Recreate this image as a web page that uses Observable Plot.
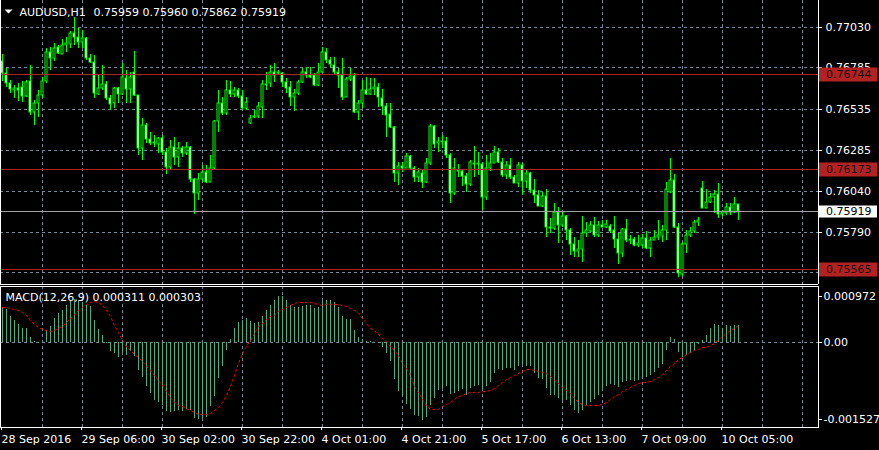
<!DOCTYPE html>
<html>
<head>
<meta charset="utf-8">
<script src="https://cdn.jsdelivr.net/npm/d3@7"></script>
<script src="https://cdn.jsdelivr.net/npm/@observablehq/plot@0.6"></script>
<style>
html, body { margin: 0; padding: 0; background: #000; }
#chart { width: 879px; height: 450px; overflow: hidden; background: #000; }
#chart svg { display: block; }
</style>
</head>
<body>
<div id="chart"></div>
<script>
// ---------- DATA (AUDUSD H1) ----------
const open = [
.76821,.76750,.76690,.76647,.76659,.76665,.76615,.76704,.76514,.76568,
.76619,.76700,.76877,.76841,.76909,.76869,.76921,.76926,.76992,.76972,
.76936,.76966,.76845,.76817,.76623,.76663,.76683,.76599,.76568,.76659,
.76627,.76724,.76655,.76756,.76619,.76296,.76437,.76353,.76326,.76320,
.76357,.76272,.76185,.76306,.76246,.76296,.76266,.76306,.76109,.76024,
.76109,.76155,.76094,.76175,.76462,.76568,.76508,.76649,.76623,.76649,
.76615,.76538,.76447,.76483,.76491,.76548,.76683,.76689,.76757,.76749,
.76749,.76699,.76665,.76608,.76628,.76699,.76759,.76739,.76739,.76679,
.76759,.76880,.76830,.76800,.76759,.76739,.76608,.76713,.76733,.76517,
.76568,.76648,.76624,.76652,.76669,.76598,.76552,.76503,.76427,.76144,
.76189,.76178,.76249,.76174,.76120,.76148,.76094,.76209,.76431,.76326,
.76340,.76340,.76255,.76023,.76164,.76160,.76128,.76080,.76205,.76201,
.76201,.75999,.76174,.76209,.76275,.76215,.76134,.76195,.76120,.76088,
.76195,.76100,.76144,.76043,.76013,.75949,.76007,.75822,.75811,.75912,
.75832,.75886,.75801,.75715,.75676,.75684,.75781,.75797,.75830,.75771,
.75832,.75822,.75826,.75801,.75745,.75660,.75805,.75741,.75745,.75711,
.75711,.75751,.75690,.75741,.75761,.75767,.75801,.76033,.76104,.75818,
.75533,.75717,.75771,.75797,.75852,.76058,.75937,.75973,.76003,.76017,
.75898,.75906,.75943,.75912,.75959
];
const high = [
.76865,.76780,.76710,.76679,.76690,.76700,.76710,.76800,.76589,.76649,
.76730,.76901,.76911,.76932,.76921,.76958,.76972,.77006,.77093,.77022,
.77012,.76972,.76865,.76861,.76740,.76800,.76700,.76619,.76669,.76669,
.76811,.76770,.76760,.76885,.76619,.76478,.76447,.76393,.76377,.76367,
.76377,.76296,.76347,.76367,.76337,.76312,.76337,.76312,.76115,.76145,
.76195,.76195,.76256,.76468,.76649,.76609,.76710,.76700,.76669,.76659,
.76649,.76609,.76497,.76527,.76578,.76709,.76759,.76800,.76810,.76769,
.76755,.76719,.76705,.76652,.76709,.76780,.76790,.76790,.76749,.76810,
.76907,.76901,.76850,.76850,.76780,.76840,.76729,.76780,.76749,.76588,
.76709,.76725,.76719,.76719,.76693,.76652,.76568,.76568,.76431,.76215,
.76215,.76265,.76255,.76189,.76174,.76164,.76235,.76443,.76437,.76366,
.76376,.76366,.76265,.76235,.76201,.76168,.76144,.76225,.76310,.76275,
.76215,.76255,.76265,.76310,.76295,.76235,.76221,.76235,.76134,.76215,
.76209,.76164,.76154,.76108,.76043,.76033,.76047,.75872,.75963,.75943,
.75912,.75892,.75811,.75761,.75741,.75886,.75852,.75858,.75878,.75856,
.75862,.75862,.75838,.75886,.75781,.75811,.75868,.75771,.75761,.75771,
.75777,.75797,.75761,.75801,.75862,.75832,.76094,.76235,.76140,.75842,
.75731,.75801,.75822,.75862,.75878,.76100,.76047,.76023,.76043,.76088,
.75922,.75963,.75963,.75999,.75960
];
const low = [
.76700,.76669,.76629,.76599,.76579,.76575,.76609,.76498,.76437,.76488,
.76599,.76690,.76770,.76821,.76865,.76865,.76881,.76901,.76921,.76901,
.76901,.76831,.76811,.76599,.76619,.76649,.76589,.76528,.76538,.76568,
.76619,.76568,.76568,.76615,.76256,.76226,.76326,.76316,.76306,.76266,
.76256,.76139,.76165,.76195,.76185,.76246,.76256,.76094,.75897,.75984,
.76094,.76084,.76094,.76165,.76397,.76498,.76498,.76609,.76609,.76599,
.76528,.76528,.76443,.76477,.76477,.76477,.76648,.76669,.76699,.76739,
.76669,.76628,.76552,.76523,.76618,.76689,.76719,.76719,.76673,.76673,
.76749,.76810,.76790,.76739,.76659,.76588,.76604,.76705,.76507,.76467,
.76538,.76618,.76618,.76618,.76548,.76497,.76366,.76416,.76094,.76074,
.76154,.76174,.76164,.76094,.76094,.76053,.76088,.76195,.76295,.76275,
.76295,.76235,.75963,.76013,.76124,.76068,.76033,.76068,.76124,.76134,
.75922,.75983,.76160,.76205,.76209,.76124,.76108,.76108,.76084,.76064,
.76013,.76054,.76027,.75963,.75947,.75943,.75761,.75781,.75801,.75721,
.75822,.75741,.75650,.75640,.75640,.75610,.75761,.75791,.75761,.75761,
.75818,.75811,.75781,.75691,.75596,.75640,.75731,.75717,.75705,.75697,
.75690,.75684,.75640,.75741,.75741,.75731,.75741,.76023,.75811,.75519,
.75523,.75660,.75761,.75785,.75826,.75933,.75933,.75963,.75902,.75872,
.75886,.75892,.75892,.75906,.75862
];
const close = [
.76750,.76690,.76655,.76663,.76647,.76615,.76696,.76514,.76568,.76619,
.76704,.76877,.76841,.76901,.76871,.76921,.76932,.76992,.76972,.76936,
.76962,.76845,.76817,.76629,.76663,.76683,.76599,.76562,.76659,.76627,
.76728,.76655,.76728,.76619,.76296,.76437,.76353,.76326,.76337,.76357,
.76272,.76185,.76306,.76246,.76296,.76266,.76306,.76109,.76024,.76109,
.76155,.76094,.76175,.76462,.76568,.76508,.76649,.76623,.76649,.76615,
.76538,.76575,.76477,.76491,.76552,.76683,.76677,.76757,.76739,.76757,
.76699,.76659,.76608,.76628,.76699,.76759,.76739,.76729,.76679,.76759,
.76880,.76830,.76806,.76755,.76739,.76608,.76713,.76733,.76517,.76568,
.76648,.76624,.76652,.76669,.76604,.76554,.76497,.76423,.76144,.76189,
.76178,.76249,.76174,.76120,.76154,.76094,.76209,.76431,.76322,.76340,
.76334,.76255,.76027,.76174,.76160,.76128,.76080,.76211,.76201,.76205,
.75999,.76174,.76209,.76275,.76215,.76134,.76195,.76120,.76088,.76195,
.76100,.76144,.76043,.76013,.75949,.76007,.75822,.75811,.75912,.75832,
.75886,.75801,.75715,.75676,.75684,.75781,.75801,.75830,.75771,.75832,
.75822,.75838,.75797,.75745,.75660,.75805,.75741,.75745,.75711,.75721,
.75751,.75690,.75741,.75761,.75771,.75801,.76047,.76104,.75818,.75539,
.75717,.75771,.75797,.75852,.75862,.75937,.75973,.76003,.76017,.75898,
.75912,.75943,.75912,.75957,.75919
];
// MACD main (histogram) and signal values
const macdMain = [
613e-6,595e-6,476e-6,405e-6,333e-6,256e-6,256e-6,95e-6,18e-6,-5e-6,
3e-6,226e-6,298e-6,434e-6,524e-6,583e-6,673e-6,750e-6,774e-6,750e-6,
714e-6,673e-6,643e-6,405e-6,238e-6,137e-6,-10e-6,-161e-6,-190e-6,-262e-6,
-190e-6,-220e-6,-161e-6,-250e-6,-500e-6,-619e-6,-786e-6,-905e-6,-1024e-6,-1054e-6,
-1113e-6,-1232e-6,-1250e-6,-1232e-6,-1214e-6,-1232e-6,-1190e-6,-1214e-6,-1351e-6,-1369e-6,
-1351e-6,-1333e-6,-1143e-6,-964e-6,-637e-6,-429e-6,-131e-6,60e-6,256e-6,357e-6,
405e-6,434e-6,375e-6,345e-6,357e-6,476e-6,571e-6,673e-6,762e-6,821e-6,
833e-6,762e-6,673e-6,631e-6,631e-6,655e-6,661e-6,661e-6,613e-6,631e-6,
732e-6,750e-6,750e-6,714e-6,631e-6,464e-6,423e-6,417e-6,226e-6,95e-6,
60e-6,18e-6,18e-6,12e-6,-12e-6,-83e-6,-190e-6,-339e-6,-655e-6,-875e-6,
-964e-6,-1095e-6,-1190e-6,-1292e-6,-1321e-6,-1381e-6,-1333e-6,-1113e-6,-994e-6,-857e-6,
-815e-6,-774e-6,-917e-6,-905e-6,-875e-6,-833e-6,-934e-6,-815e-6,-786e-6,-756e-6,
-857e-6,-774e-6,-714e-6,-548e-6,-476e-6,-488e-6,-458e-6,-458e-6,-488e-6,-429e-6,
-381e-6,-429e-6,-429e-6,-548e-6,-637e-6,-655e-6,-815e-6,-934e-6,-934e-6,-994e-6,
-1024e-6,-1024e-6,-1113e-6,-1214e-6,-1262e-6,-1202e-6,-1113e-6,-1054e-6,-1012e-6,-934e-6,
-857e-6,-774e-6,-738e-6,-756e-6,-798e-6,-714e-6,-696e-6,-667e-6,-684e-6,-667e-6,
-637e-6,-619e-6,-577e-6,-536e-6,-458e-6,-381e-6,-131e-6,89e-6,60e-6,-179e-6,
-262e-6,-220e-6,-190e-6,-131e-6,-24e-6,36e-6,137e-6,256e-6,333e-6,315e-6,
256e-6,315e-6,298e-6,315e-6,311e-6
];
const macdSignal = [
631e-6,625e-6,613e-6,595e-6,571e-6,536e-6,494e-6,405e-6,327e-6,274e-6,
244e-6,214e-6,196e-6,226e-6,256e-6,298e-6,369e-6,434e-6,512e-6,583e-6,
631e-6,690e-6,720e-6,732e-6,714e-6,673e-6,583e-6,476e-6,315e-6,179e-6,
48e-6,-60e-6,-143e-6,-208e-6,-262e-6,-339e-6,-429e-6,-500e-6,-577e-6,-667e-6,
-756e-6,-875e-6,-976e-6,-1054e-6,-1113e-6,-1143e-6,-1173e-6,-1214e-6,-1244e-6,-1274e-6,
-1286e-6,-1274e-6,-1262e-6,-1214e-6,-1155e-6,-1054e-6,-934e-6,-786e-6,-577e-6,-369e-6,
-190e-6,-60e-6,48e-6,167e-6,286e-6,345e-6,417e-6,476e-6,494e-6,554e-6,
595e-6,631e-6,673e-6,702e-6,714e-6,726e-6,726e-6,714e-6,702e-6,684e-6,
673e-6,684e-6,690e-6,690e-6,690e-6,673e-6,643e-6,613e-6,571e-6,524e-6,
434e-6,345e-6,256e-6,226e-6,155e-6,77e-6,18e-6,-60e-6,-131e-6,-220e-6,
-369e-6,-458e-6,-577e-6,-774e-6,-893e-6,-1012e-6,-1113e-6,-1184e-6,-1184e-6,-1184e-6,
-1131e-6,-1095e-6,-1054e-6,-1006e-6,-964e-6,-934e-6,-905e-6,-893e-6,-881e-6,-881e-6,
-875e-6,-869e-6,-845e-6,-810e-6,-762e-6,-708e-6,-661e-6,-619e-6,-583e-6,-548e-6,
-506e-6,-482e-6,-482e-6,-488e-6,-506e-6,-524e-6,-554e-6,-607e-6,-667e-6,-726e-6,
-792e-6,-845e-6,-905e-6,-994e-6,-1054e-6,-1095e-6,-1113e-6,-1119e-6,-1125e-6,-1119e-6,
-1101e-6,-1065e-6,-1006e-6,-964e-6,-917e-6,-869e-6,-833e-6,-792e-6,-756e-6,-732e-6,
-714e-6,-702e-6,-684e-6,-661e-6,-625e-6,-571e-6,-500e-6,-429e-6,-363e-6,-304e-6,
-256e-6,-208e-6,-173e-6,-143e-6,-113e-6,-89e-6,-77e-6,-54e-6,-12e-6,60e-6,
119e-6,167e-6,220e-6,262e-6,303e-6
];
// time axis: bar index of each label, and label text
const timeTickBars = [0, 20, 40, 60, 80, 100, 120, 140, 160, 180];
const timeTickLabels = ["28 Sep 2016", "29 Sep 06:00", "30 Sep 02:00", "30 Sep 22:00", "4 Oct 01:00",
  "4 Oct 21:00", "5 Oct 17:00", "6 Oct 13:00", "7 Oct 09:00", "10 Oct 05:00"];
const gridBars = [10, 20, 30, 40, 50, 60, 70, 80, 90, 100, 110, 120, 130, 140, 150, 160, 170, 180, 190, 200];
const priceTicks = [0.77030, 0.76785, 0.76535, 0.76285, 0.76040, 0.75790, 0.75545];
const priceDomain = [0.75475, 0.77193];
const barDomain = [-0.5, 204];
const redLevels = [0.76744, 0.76173, 0.75565];
const bidLevel = 0.75919;
const macdMax = 0.000972, macdMin = -0.001527;
const headerSymbol = "AUDUSD,H1";
const headerValues = "0.75959 0.75960 0.75862 0.75919";
const macdHeader = "MACD(12,26,9) 0.000311 0.000303";

// ---------- BUILD ----------
const bars = close.map((c, i) => ({i, o: open[i], h: high[i], l: low[i], c}));
const bulls = bars.filter(d => d.c >= d.o);
const bears = bars.filter(d => d.c < d.o);
const hist = macdMain.map((v, i) => ({i, v}));
const sig = macdSignal.map((v, i) => ({i, v}));

const GRID = "#778899";
const GREEN = "#00ff00";
const FONT = "DejaVu Sans";
const baseStyle = {background: "#000", color: "#fff", fontFamily: FONT, fontSize: "11px", overflow: "visible"};

const downTriangle = {draw(ctx) { ctx.moveTo(-4, -2); ctx.lineTo(4, -2); ctx.lineTo(0, 2); ctx.closePath(); }};

const main = Plot.plot({
  width: 879, height: 285,
  marginLeft: 0, marginRight: 61, marginTop: 0, marginBottom: 1,
  style: baseStyle,
  x: {type: "linear", domain: barDomain, range: [0, 818], axis: null, round: true},
  y: {type: "linear", domain: priceDomain, range: [284, 0], axis: null, round: true},
  marks: [
    Plot.ruleX(gridBars, {stroke: GRID, strokeDasharray: "3,3"}),
    Plot.ruleY(priceTicks, {stroke: GRID, strokeDasharray: "3,3"}),
    Plot.ruleX(bars, {x: "i", y1: "l", y2: "h", stroke: GREEN}),
    Plot.rect(bulls, {x1: d => d.i - 0.25, x2: d => d.i + 0.25, y1: "o", y2: "c", fill: "#000", stroke: GREEN}),
    Plot.rect(bears, {x1: d => d.i - 0.25, x2: d => d.i + 0.25, y1: "o", y2: "c", fill: "#fff", stroke: GREEN}),
    Plot.ruleY(redLevels, {stroke: "#b22222"}),
    Plot.ruleY([bidLevel], {stroke: "#a0a0a0"}),
    Plot.axisY({anchor: "right", ticks: priceTicks, tickFormat: d => d.toFixed(5), tickSize: 3, tickPadding: 4, label: null, stroke: "#fff", fill: "#fff"}),
    Plot.ruleX([barDomain[0], barDomain[1]], {stroke: "#fff"}),
    Plot.ruleY([priceDomain[0]], {stroke: "#fff"}),
    Plot.dot([0], {frameAnchor: "top-left", dx: 8, dy: 11, symbol: downTriangle, r: 4, fill: "#fff", stroke: "none"}),
    Plot.text([headerSymbol], {frameAnchor: "top-left", dx: 19, dy: 12, textAnchor: "start", lineAnchor: "middle", fill: "#fff"}),
    Plot.text([headerValues], {frameAnchor: "top-left", dx: 93, dy: 12, textAnchor: "start", lineAnchor: "middle", fill: "#fff"})
  ]
});

// price label boxes on the right axis
{
  const ys = main.scale("y");
  const svg = d3.select(main);
  const boxes = redLevels.map(p => ({p, bg: "#b22222", fg: "#111", h: 14}))
    .concat([{p: bidLevel, bg: "#fff", fg: "#000", h: 12}]);
  for (const b of boxes) {
    const y = Math.round(ys.apply(b.p)) + 0.5;
    svg.append("rect").attr("x", 819).attr("y", y - b.h / 2).attr("width", 58).attr("height", b.h).attr("fill", b.bg);
    svg.append("text").attr("x", 826).attr("y", y).attr("dy", "0.35em").attr("fill", b.fg)
      .attr("text-anchor", "start").attr("font-family", FONT).attr("font-size", 11).text(b.p.toFixed(5));
  }
}

const macdPlot = Plot.plot({
  width: 879, height: 165,
  marginLeft: 0, marginRight: 61, marginTop: 1, marginBottom: 23,
  style: baseStyle,
  x: {type: "linear", domain: barDomain, range: [0, 818], round: true},
  y: {type: "linear", domain: [macdMin, macdMax], range: [143, 3], axis: null, round: true},
  marks: [
    Plot.ruleX(gridBars, {stroke: GRID, strokeDasharray: "3,3"}),
    Plot.ruleY([0], {stroke: GRID, strokeDasharray: "3,3"}),
    Plot.ruleX(hist, {x: "i", y1: 0, y2: "v", stroke: "#55a97f"}),
    Plot.line(sig, {x: "i", y: "v", stroke: "#ff0000", strokeDasharray: "2,3", strokeWidth: 1}),
    Plot.frame({stroke: "#fff"}),
    Plot.axisY({anchor: "right", ticks: [0], tickFormat: () => "0.00", tickSize: 3, tickPadding: 2, label: null, stroke: "#fff", fill: "#fff"}),
    Plot.axisY({anchor: "right", ticks: [macdMax], tickFormat: d => d.toFixed(6), tickSize: 3, tickPadding: 2, dy: 8, label: null, stroke: "#fff", fill: "#fff"}),
    Plot.axisY({anchor: "right", ticks: [macdMin], tickFormat: d => d.toFixed(6), tickSize: 3, tickPadding: 2, dy: -9, label: null, stroke: "#fff", fill: "#fff"}),
    Plot.axisX({ticks: timeTickBars, tickFormat: d => timeTickLabels[timeTickBars.indexOf(d)], tickSize: 3, tickPadding: 5, textAnchor: "start", dx: -1, label: null, stroke: "#fff", fill: "#fff"}),
    Plot.text([macdHeader], {frameAnchor: "top-left", dx: 5, dy: 11, textAnchor: "start", lineAnchor: "middle", fill: "#fff"})
  ]
});

const chart = document.getElementById("chart");
chart.appendChild(main);
chart.appendChild(macdPlot);
</script>
</body>
</html>
